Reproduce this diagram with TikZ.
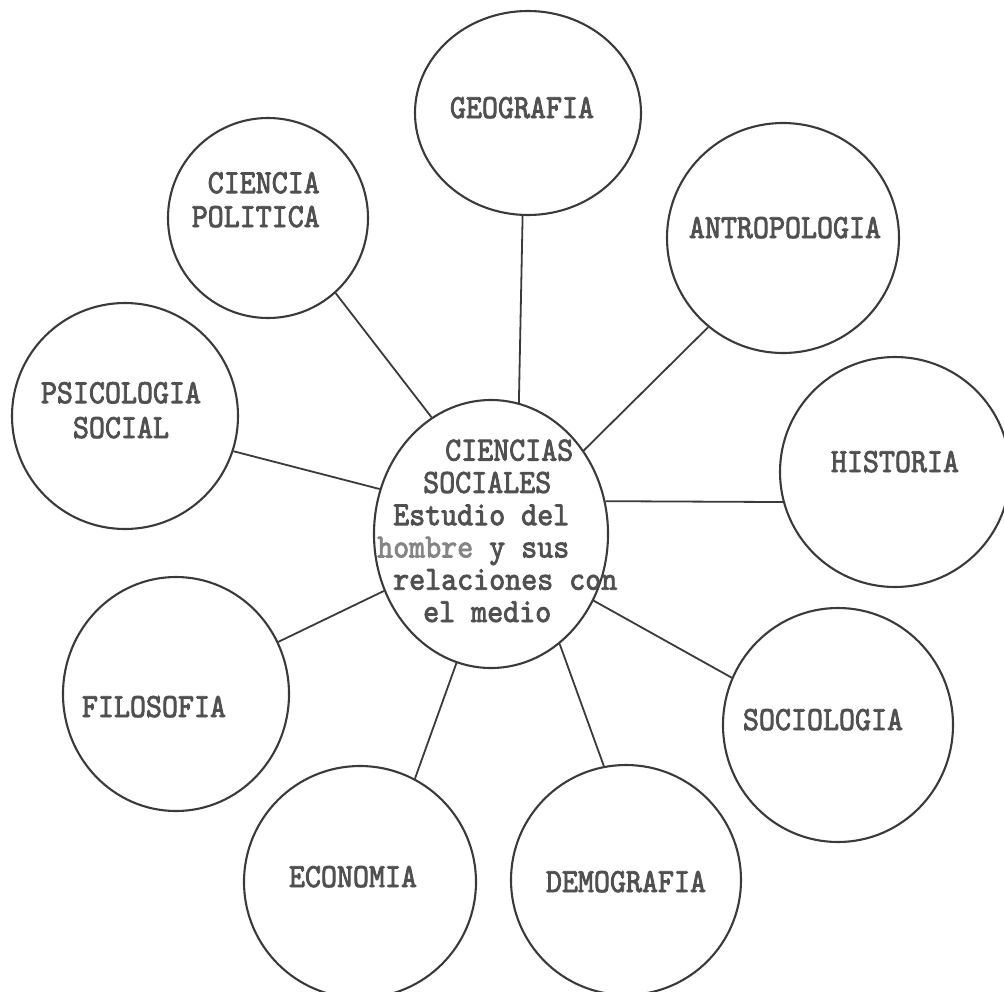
\documentclass[tikz,border=0pt]{standalone}
\usepackage{fontspec}
\setmonofont{lmmono10-regular.otf}[FakeBold=2.4,FakeStretch=0.9]
\usetikzlibrary{shapes.geometric}
\definecolor{ink}{HTML}{3A3A3A}
\definecolor{txt}{HTML}{505050}
\definecolor{txtl}{HTML}{858585}
\tikzset{
  bubble/.style={draw=ink, line width=2.1bp, ellipse, inner sep=0pt},
  lbl/.style={text=txt, font=\ttfamily\fontsize{34}{35}\selectfont, inner sep=0pt},
  link/.style={draw=ink, line width=1.8bp}
}
\begin{document}
\begin{tikzpicture}[x=1bp,y=-1bp]
\useasboundingbox (0,0) rectangle (1004,992);
% bubbles
\node[bubble, minimum width=234bp, minimum height=268bp] (cs) at (491,534) {};
\node[bubble, minimum width=226bp, minimum height=204bp] (geo) at (528,113) {};
\node[bubble, minimum width=200bp, minimum height=200bp] (pol) at (268,218) {};
\node[bubble, minimum width=232bp, minimum height=230bp] (ant) at (783,238) {};
\node[bubble, minimum width=226bp, minimum height=226bp] (psi) at (125,416) {};
\node[bubble, minimum width=230bp, minimum height=230bp] (his) at (895,472) {};
\node[bubble, minimum width=226bp, minimum height=234bp] (fil) at (176,694) {};
\node[bubble, minimum width=230bp, minimum height=234bp] (soc) at (838,725) {};
\node[bubble, minimum width=232bp, minimum height=232bp] (eco) at (360,882) {};
\node[bubble, minimum width=230bp, minimum height=230bp] (dem) at (626,880) {};
% labels
\node[lbl, anchor=base] (geoT) at (522,118) {GEOGRAFIA};
\node[lbl, anchor=base east, align=right, font=\ttfamily\fontsize{34}{34}\selectfont] (polT) at (320,227) {CIENCIA\\POLITICA};
\node[lbl, anchor=base, align=center] (psiT) at (121,438) {PSICOLOGIA\\SOCIAL};
\node[lbl, anchor=base] (antT) at (785,238) {ANTROPOLOGIA};
\node[lbl, anchor=base] (hisT) at (895,472) {HISTORIA};
\node[lbl, anchor=base] (filT) at (154,717) {FILOSOFIA};
\node[lbl, anchor=base] (socT) at (823,730) {SOCIOLOGIA};
\node[lbl, anchor=base] (ecoT) at (353,887) {ECONOMIA};
\node[lbl, anchor=base] (demT) at (626,892) {DEMOGRAFIA};
\node[lbl, anchor=base west, align=left, font=\ttfamily\fontsize{34}{32.4}\selectfont] (csT) at (377,622)
  {\hspace*{68bp}CIENCIAS\\
   \hspace*{46bp}SOCIALES\\
   \hspace*{16bp}Estudio del\\
   \textcolor{txtl}{hombre} y sus\\
   \hspace*{16bp}relaciones con\\
   \hspace*{46bp}el medio};
% connectors
\draw[link] (geo.-93) -- (cs.78);
\draw[link] (pol.-48) -- (cs.117);
\draw[link] (ant.230) -- (cs.42);
\draw[link] (psi.-18) -- (cs.158);
\draw[link] (his.195) -- (cs.16);
\draw[link] (fil.27) -- (cs.208);
\draw[link] (soc.156) -- (cs.-33);
\draw[link] (eco.62) -- (cs.-105);
\draw[link] (dem.101) -- (cs.-58);
\end{tikzpicture}
\end{document}
